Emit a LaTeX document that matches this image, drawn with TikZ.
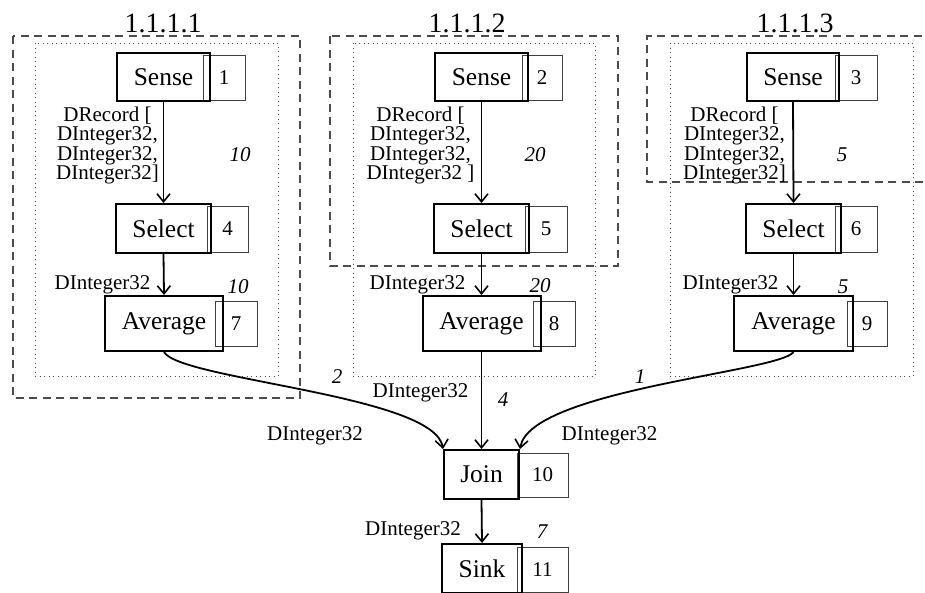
\documentclass[tikz,border=0pt]{standalone}
\usepackage{fontspec}
\setmainfont{Liberation Serif}
\usetikzlibrary{arrows.meta}
\begin{document}
\begin{tikzpicture}[x=1pt,y=-1pt,
  mainbox/.style={draw=black,line width=2pt,minimum width=#1,minimum height=48pt,inner sep=0pt,font=\fontsize{25.5}{28}\selectfont},
  numbox/.style={draw=black!75,line width=1pt,minimum width=#1,minimum height=45pt,inner sep=0pt,font=\fontsize{21}{24}\selectfont},
  edge/.style={line width=1.8pt,-{Straight Barb[length=8pt,width=13pt,line width=1.6pt]}},
  lbl/.style={inner sep=0pt,align=center,font=\fontsize{21}{19.5}\selectfont},
  wt/.style={inner sep=0pt,font=\fontsize{21}{24}\selectfont\itshape},
  ttl/.style={inner sep=0pt,anchor=base,font=\fontsize{28}{30}\selectfont},
  outer/.style={draw=black!70,line width=1.2pt,dash pattern=on 8pt off 5.5pt},
  inner/.style={draw=black!70,line width=1pt,dash pattern=on 1pt off 3.5pt}]
\useasboundingbox (0,0) rectangle (925,592);

% clusters
\draw[outer] (13,36) rectangle (300,398);
\draw[outer] (330,36) rectangle (618,266);
\draw[outer] (935,36) -- (647,36) -- (647,182) -- (935,182);
\draw[inner] (35,43) rectangle (278,376);
\draw[inner] (353,43) rectangle (595,376);
\draw[inner] (670,43) rectangle (913,376);

\node[ttl] (t1) at (163,32) {1.1.1.1};
\node[ttl] (t2) at (467,32) {1.1.1.2};
\node[ttl] (t3) at (795,32) {1.1.1.3};

% number boxes
\node[numbox=42pt] (n1) at (224,77.5) {1};
\node[numbox=40pt] (n2) at (542,77.5) {2};
\node[numbox=42pt] (n3) at (856,77.5) {3};
\node[numbox=41pt,minimum height=46pt] (n4) at (227.5,229) {4};
\node[numbox=42pt,minimum height=46pt] (n5) at (546,229) {5};
\node[numbox=42pt,minimum height=46pt] (n6) at (856,229) {6};
\node[numbox=42pt] (n7) at (236,323.5) {7};
\node[numbox=42pt] (n8) at (554,323.5) {8};
\node[numbox=40pt] (n9) at (867,323.5) {9};
\node[numbox=51pt,minimum height=44pt] (n10) at (542.5,475) {10};
\node[numbox=51pt] (n11) at (542.5,569.5) {11};

% main boxes
\node[mainbox=93pt] (sense1) at (163.5,77) {Sense};
\node[mainbox=93pt] (sense2) at (481.5,77) {Sense};
\node[mainbox=92pt] (sense3) at (793,77) {Sense};
\node[mainbox=95pt,minimum height=49pt] (select1) at (163.5,228.5) {Select};
\node[mainbox=95pt,minimum height=49pt] (select2) at (481.5,228.5) {Select};
\node[mainbox=95pt,minimum height=49pt] (select3) at (793.5,228.5) {Select};
\node[mainbox=118pt,minimum height=55pt] (avg1) at (164,323.5) {Average};
\node[mainbox=118pt,minimum height=55pt] (avg2) at (481.5,323.5) {Average};
\node[mainbox=119pt,minimum height=55pt] (avg3) at (793.5,323.5) {Average};
\node[mainbox=75pt,minimum height=49pt] (join) at (481.5,474.5) {Join};
\node[mainbox=80pt,minimum height=49pt] (sink) at (482,568.5) {Sink};

% edges
\draw[edge] (sense1.south) -- (select1.north);
\draw[edge] (sense2.south) -- (select2.north);
\draw[edge] (sense3.south) -- (select3.north);
\draw[edge] (select1.south) -- (avg1.north);
\draw[edge] (select2.south) -- (avg2.north);
\draw[edge] (select3.south) -- (avg3.north);
\draw[edge] (avg1.south) .. controls (180,380) and (435,395) .. (join.north west);
\draw[edge] (avg2.south) -- (join.north);
\draw[edge] (avg3.south) .. controls (780,372) and (530,390) .. (join.north east);
\draw[edge] (join.south) -- (sink.north);

% labels
\node[lbl] (l1) at (107.5,145.5) {DRecord [\\DInteger32,\\DInteger32,\\DInteger32]};
\node[lbl] (l2) at (420.5,145.5) {DRecord [\\DInteger32,\\DInteger32,\\DInteger32 ]};
\node[lbl] (l3) at (734.5,145.5) {DRecord [\\DInteger32,\\DInteger32,\\DInteger32]};
\node[wt] (w1) at (240,155) {10};
\node[wt] (w2) at (535,155) {20};
\node[wt] (w3) at (842,155) {5};
\node[lbl] (l4) at (102.5,285) {DInteger32};
\node[lbl] (l5) at (417.5,285) {DInteger32};
\node[lbl] (l6) at (730.5,285) {DInteger32};
\node[wt] (w4) at (238,287) {10};
\node[wt] (w5) at (540,286) {20};
\node[wt] (w6) at (843,287) {5};
\node[wt] (w7) at (337,377) {2};
\node[lbl] (l7) at (420.5,393) {DInteger32};
\node[wt] (w8) at (503,400) {4};
\node[wt] (w9) at (640,377) {1};
\node[lbl] (l8) at (315,436) {DInteger32};
\node[lbl] (l9) at (609.5,436) {DInteger32};
\node[lbl] (l10) at (413,531) {DInteger32};
\node[wt] (w10) at (542,532) {7};
\end{tikzpicture}
\end{document}
